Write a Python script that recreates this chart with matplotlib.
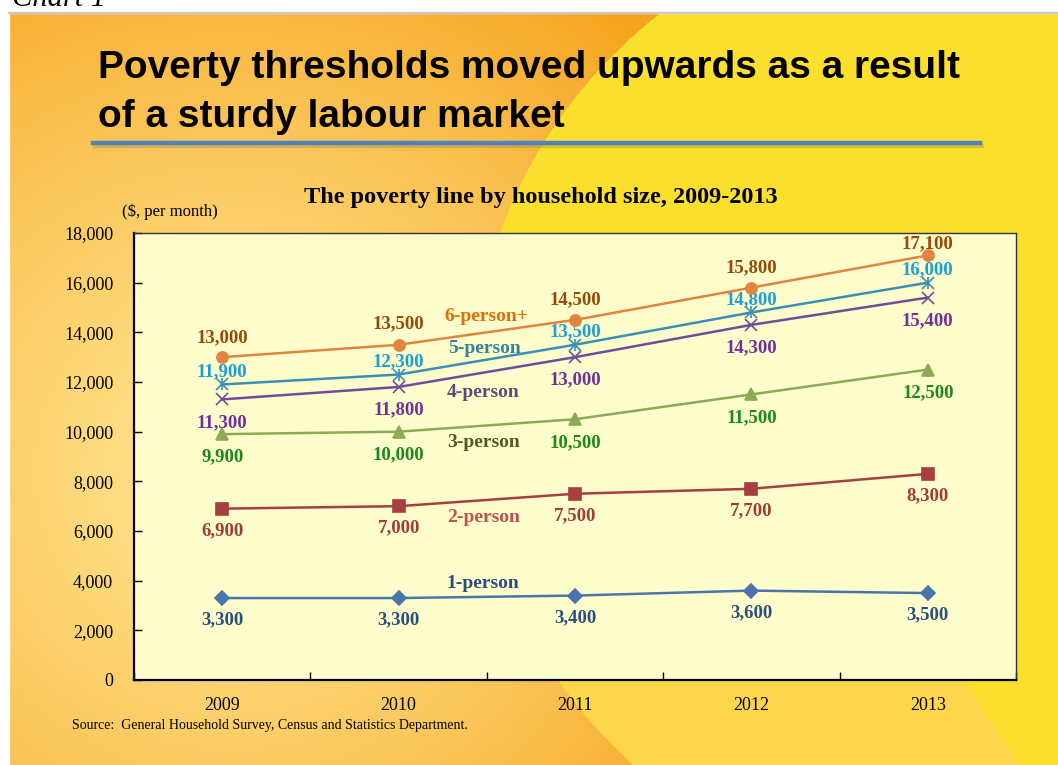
import numpy as np
import matplotlib
matplotlib.use("Agg")
from matplotlib import pyplot as plt
from matplotlib.patches import Rectangle

W, H = 1058, 765

years = ["2009", "2010", "2011", "2012", "2013"]
one_person = [3300, 3300, 3400, 3600, 3500]
two_person = [6900, 7000, 7500, 7700, 8300]
three_person = [9900, 10000, 10500, 11500, 12500]
four_person = [11300, 11800, 13000, 14300, 15400]
five_person = [11900, 12300, 13500, 14800, 16000]
six_person = [13000, 13500, 14500, 15800, 17100]
series_names = ["1-person", "2-person", "3-person", "4-person", "5-person", "6-person+"]

serif = ["Liberation Serif", "DejaVu Serif"]
sans = ["Liberation Sans", "DejaVu Sans"]

fig = plt.figure(figsize=(W / 100, H / 100), dpi=100)

# slide background: orange glow on the left, big yellow disc on the right
bg = fig.add_axes([0, 0, 1, 1])
yy, xx = np.mgrid[0:H, 0:W].astype(float)
light = np.array([255, 228, 142]) / 255
orange = np.array([246, 164, 30]) / 255
yellow = np.array([251, 223, 45]) / 255
mid_yellow = np.array([254, 214, 76]) / 255
d = np.sqrt((xx - 230) ** 2 + (yy - 470) ** 2) / 600
t = np.clip(d, 0, 1)[..., None] ** 1.3
img = light * (1 - t) + orange * t
disc = np.sqrt((xx - 960) ** 2 + (yy - 400) ** 2) < 490
img[disc] = yellow
lower = disc & (yy > 520)
img[lower] = mid_yellow
img[(yy > 520) & (xx > 963 + (yy - 682) * 0.69)] = yellow
bg.imshow(img, extent=[0, W, H, 0], aspect="auto", interpolation="bilinear")
bg.add_patch(Rectangle((0, 0), W, 13, color="white", zorder=2))
bg.add_patch(Rectangle((0, 0), 9, H, color="white", zorder=2))
bg.plot([9, W], [13, 13], color="#c8c8c8", lw=1.6, zorder=3)
bg.set_xlim(0, W)
bg.set_ylim(H, 0)
bg.axis("off")

# caption above the slide, clipped by the top edge
bg.text(12, 6, "Chart 1", fontsize=22, style="italic", family=serif, va="baseline", zorder=6)

# headline and its blue rule
bg.text(98, 78, "Poverty thresholds moved upwards as a result", fontsize=28,
        fontweight="bold", family=sans, va="baseline", zorder=4)
bg.text(98, 127, "of a sturdy labour market", fontsize=28,
        fontweight="bold", family=sans, va="baseline", zorder=4)
bg.plot([95, 982], [146, 146], color="#7a7a50", lw=3.0, alpha=0.3, zorder=4)
bg.plot([93, 980], [143, 143], color="#4f81bd", lw=3.2, zorder=5)

bg.text(541, 197, "The poverty line by household size, 2009-2013", fontsize=17.5,
        fontweight="bold", family=serif, ha="center", va="center", zorder=4)
bg.text(170, 212, "($, per month)", fontsize=12, family=serif,
        ha="center", va="center", zorder=4)
bg.text(72, 726, "Source:  General Household Survey, Census and Statistics Department.",
        fontsize=10, family=serif, va="center", zorder=4)

# chart area
x0, x1, y0, y1 = 134, 1016, 233, 680
ax = fig.add_axes([x0 / W, 1 - y1 / H, (x1 - x0) / W, (y1 - y0) / H])
ax.set_facecolor("#fffdcb")
x = np.arange(len(years))

styles = [
    # line colour, marker, marker size, value colour, name colour, name position, value offset px
    ("#4a74ac", "D", 7, "#2a4f7f", "#2b4c7e", (1.48, 3866), [-22] * 5),
    ("#a5403f", "s", 8, "#a03c38", "#c0504d", (1.48, 6524), [-22] * 5),
    ("#8caa55", "^", 9, "#1a8a1a", "#4f5a28", (1.48, 9545), [-23] * 5),
    ("#6f4d9a", "x", 9, "#7030a0", "#5f497a", (1.48, 11558), [-23] * 5),
    ("#3a8fb5", "x", 8, "#18a0d8", "#31849b", (1.49, 13330), [13] * 5),
    ("#e2843f", "o", 8, "#984807", "#e46c0a", (1.50, 14620), [19, 21, 20, 20, 12]),
]
all_series = [one_person, two_person, three_person, four_person, five_person, six_person]

for name, vals, st in zip(series_names, all_series, styles):
    lc, mk, ms, vc, nc, npos, offs = st
    ax.plot(x, vals, color=lc, lw=1.8, marker=mk, ms=ms, mew=1.2, zorder=3)
    if name == "5-person":
        ax.plot(x, vals, ls="none", marker="|", ms=ms, mew=1.2, color=lc, zorder=3)
    for xi, v, o in zip(x, vals, offs):
        ax.annotate(f"{v:,}", (xi, v), xytext=(0, o * 0.72), textcoords="offset points",
                    ha="center", va="center", fontsize=13.5, fontweight="bold",
                    family=serif, color=vc)
    ax.text(npos[0], npos[1], name, ha="center", va="center", fontsize=14,
            fontweight="bold", family=serif, color=nc)

ax.set_xlim(-0.5, 4.5)
ax.set_ylim(0, 18000)
ax.set_yticks(range(0, 18001, 2000))
ax.set_yticklabels([f"{v:,}" for v in range(0, 18001, 2000)], family=serif, fontsize=13)
ax.set_xticks(x)
ax.set_xticklabels(years, family=serif, fontsize=13)
ax.set_xticks(np.arange(-0.5, 4.6, 1), minor=True)
ax.tick_params(axis="x", which="major", length=0, pad=12)
ax.tick_params(axis="x", which="minor", direction="in", length=6, width=1)
ax.tick_params(axis="y", direction="in", length=6, width=1, pad=15)
for s in ["left", "bottom"]:
    ax.spines[s].set_linewidth(1.6)
for s in ["top", "right"]:
    ax.spines[s].set_linewidth(1.0)
    ax.spines[s].set_color("#333333")

fig.savefig("out.png", dpi=100)
